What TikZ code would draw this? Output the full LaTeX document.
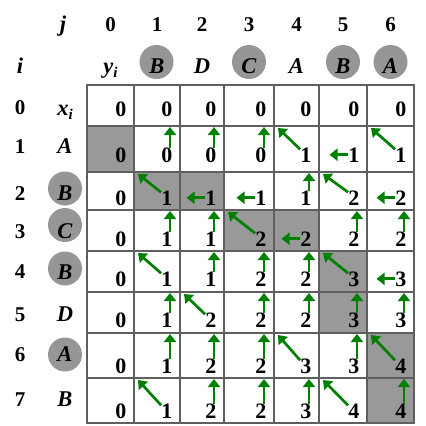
\documentclass[tikz,border=0pt]{standalone}
\usepackage{fontspec}
\setmainfont{Liberation Serif}
\usetikzlibrary{arrows.meta}
\definecolor{arrgreen}{RGB}{0,128,0}
\definecolor{shadec}{RGB}{153,153,153}
\definecolor{hlgray}{RGB}{150,150,150}
\definecolor{gridc}{RGB}{95,95,95}
\newcommand\sub[1]{\raisebox{-0.22em}{\fontsize{15}{15}\selectfont #1}}
\newcommand\arrn[1]{}
\newcommand\arru[1]{\coordinate (t#1) at (\cR-10,\cT+1); \draw[arr] ([yshift=-1pt]#1.north -| t#1) -- (t#1);}
\newcommand\arrl[1]{\coordinate (t#1) at (\cR-7.5-11-19,0); \draw[arr] (#1.west) -- (#1.west -| t#1);}
\newcommand\arrd[1]{\coordinate (t#1) at (\cL+4,\cT+2); \draw[arr] ([yshift=-2pt]#1.north west) -- (t#1);}
\begin{document}
\begin{tikzpicture}[x=1pt,y=-1pt,
  num/.style={font=\fontsize{22}{22}\selectfont\bfseries, inner sep=0pt, anchor=base east},
  lbl/.style={font=\fontsize{21}{21}\selectfont\bfseries, inner sep=0pt, anchor=base},
  ilbl/.style={font=\fontsize{22.5}{22.5}\selectfont\bfseries\itshape, inner sep=0pt, anchor=base},
  hl/.style={circle, fill=hlgray, minimum size=34pt, inner sep=0pt},
  shadecell/.style={fill=shadec},
  gridline/.style={draw=gridc, line width=1.3pt, line cap=rect},
  arr/.style={draw=arrgreen, line width=2.7pt, -{Triangle[length=8pt,width=12pt]}},
]
\useasboundingbox (0,0) rectangle (426,426);
\def\XE{{87,134,180,224,274,319,367,414}}
\def\YE{{85,126,172,210,251,292,333,378,423}}
\def\BL{{116,162,205,246,286,327,373,418}}
% shaded cells
\foreach \i/\j in {1/0,2/1,2/2,3/3,3/4,4/5,5/5,6/6,7/6}{
  \pgfmathsetmacro\cL{\XE[\j]}
  \pgfmathsetmacro\cR{\XE[\j+1]}
  \pgfmathsetmacro\cT{\YE[\i]}
  \pgfmathsetmacro\cB{\YE[\i+1]}
  \fill[shadecell] (\cL,\cT) rectangle (\cR,\cB);
}
% grid
\foreach \k in {0,...,7}{
  \pgfmathsetmacro\gx{\XE[\k]}
  \draw[gridline] (\gx,85) -- (\gx,423);
}
\foreach \k in {0,...,8}{
  \pgfmathsetmacro\gy{\YE[\k]}
  \draw[gridline] (87,\gy) -- (414,\gy);
}
% cells
\foreach \i/\j/\v/\d in {
 0/0/0/n,0/1/0/n,0/2/0/n,0/3/0/n,0/4/0/n,0/5/0/n,0/6/0/n,
 1/0/0/n,1/1/0/u,1/2/0/u,1/3/0/u,1/4/1/d,1/5/1/l,1/6/1/d,
 2/0/0/n,2/1/1/d,2/2/1/l,2/3/1/l,2/4/1/u,2/5/2/d,2/6/2/l,
 3/0/0/n,3/1/1/u,3/2/1/u,3/3/2/d,3/4/2/l,3/5/2/u,3/6/2/u,
 4/0/0/n,4/1/1/d,4/2/1/u,4/3/2/u,4/4/2/u,4/5/3/d,4/6/3/l,
 5/0/0/n,5/1/1/u,5/2/2/d,5/3/2/u,5/4/2/u,5/5/3/u,5/6/3/u,
 6/0/0/n,6/1/1/u,6/2/2/u,6/3/2/u,6/4/3/d,6/5/3/u,6/6/4/d,
 7/0/0/n,7/1/1/d,7/2/2/u,7/3/2/u,7/4/3/u,7/5/4/d,7/6/4/u}{
  \pgfmathsetmacro\cL{\XE[\j]}
  \pgfmathsetmacro\cR{\XE[\j+1]}
  \pgfmathsetmacro\cT{\YE[\i]}
  \pgfmathsetmacro\cb{\BL[\i]}
  \node[num] (n\i\j) at (\cR-7.5,\cb) {\v};
  \csname arr\d\endcsname{n\i\j}
}
% column headers
\node[ilbl] (hj) at (63,31) {j};
\foreach \k/\cx in {0/110.5,1/157,2/202,3/249,4/296.5,5/343,6/390.5}{
  \node[lbl] (hc\k) at (\cx,31) {\k};
}
\node[hl] (c1) at (156.5,62) {};
\node[hl] (c3) at (249,62) {};
\node[hl] (c5) at (343,62) {};
\node[hl] (c6) at (390.5,62) {};
\node[ilbl] (hy) at (110.5,73) {y\sub{i}};
\node[ilbl] (y1) at (157,73) {B};
\node[ilbl] (y2) at (202,73) {D};
\node[ilbl] (y3) at (249,73) {C};
\node[ilbl] (y4) at (296.5,73) {A};
\node[ilbl] (y5) at (343,73) {B};
\node[ilbl] (y6) at (390.5,73) {A};
% row headers
\node[ilbl] (hi) at (20,73) {i};
\foreach \k/\ry in {0/114,1/153,2/200,3/238,4/278,5/321,6/361,7/406}{
  \node[lbl] (hr\k) at (20,\ry) {\k};
}
\node[hl] (r2) at (65,188.5) {};
\node[hl] (r3) at (65,225) {};
\node[hl] (r4) at (65,268.5) {};
\node[hl] (r6) at (65,354.5) {};
\node[ilbl] (hx) at (65,115) {x\sub{i}};
\node[ilbl] (x1) at (65,153) {A};
\node[ilbl] (x2) at (65,200) {B};
\node[ilbl] (x3) at (65,238) {C};
\node[ilbl] (x4) at (65,279) {B};
\node[ilbl] (x5) at (65,321) {D};
\node[ilbl] (x6) at (65,361) {A};
\node[ilbl] (x7) at (65,406) {B};
\end{tikzpicture}
\end{document}
